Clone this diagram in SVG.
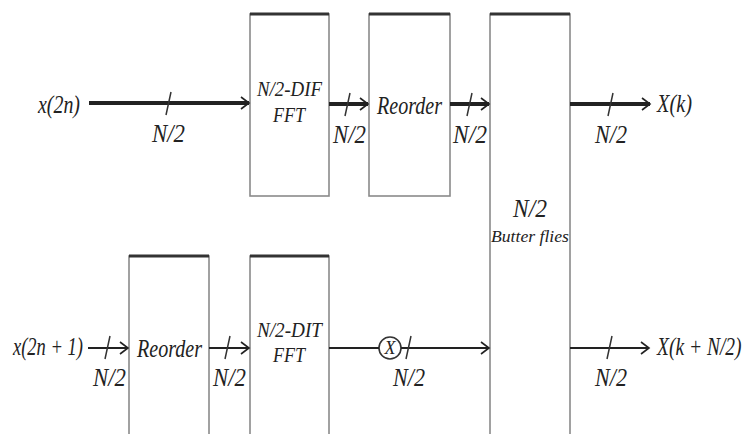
<svg xmlns="http://www.w3.org/2000/svg" width="747" height="434" viewBox="0 0 747 434" font-family="'Liberation Serif', 'DejaVu Serif', serif">
<style>
.box{fill:#fff;stroke:#8a8a8a;stroke-width:1.6}
.top{stroke:#333;stroke-width:3;fill:none}
text{font-family:'Liberation Serif','DejaVu Serif',serif;font-style:italic;fill:#222}
.l{font-size:25px}
.s{font-size:21px}
.thick{stroke:#222;stroke-width:4;fill:none}
.thin{stroke:#222;stroke-width:2;fill:none}
.tick{stroke:#333;stroke-width:1.5;fill:none}
</style>
<defs>
<marker id="arr" markerUnits="userSpaceOnUse" markerWidth="14" markerHeight="16" viewBox="0 0 14 16" refX="12" refY="8" orient="auto">
<path d="M4,2 L12,8 L4,14" fill="none" stroke="#222" stroke-width="1.6"/>
</marker>
</defs>

<g id="dif-fft">
<rect class="box" x="250" y="14" width="79" height="182"/>
<line class="top" x1="250" y1="14" x2="329" y2="14"/>
<text class="s" x="257" y="96" textLength="65" lengthAdjust="spacingAndGlyphs">N/2-DIF</text>
<text class="s" x="273" y="122" textLength="32" lengthAdjust="spacingAndGlyphs">FFT</text>
</g>
<g id="reorder-top">
<rect class="box" x="369" y="14" width="81" height="182"/>
<line class="top" x1="369" y1="14" x2="450" y2="14"/>
<text class="l" x="377" y="114" textLength="65" lengthAdjust="spacingAndGlyphs">Reorder</text>
</g>
<g id="butterflies">
<path class="box" d="M490,440 L490,14 L570,14 L570,440"/>
<line class="top" x1="490" y1="14" x2="570" y2="14"/>
<text class="l" x="513" y="217" textLength="34" lengthAdjust="spacingAndGlyphs">N/2</text>
<text style="font-size:17px" x="491" y="242" textLength="78" lengthAdjust="spacingAndGlyphs">Butter flies</text>
</g>
<g id="reorder-bottom">
<path class="box" d="M129,440 L129,256 L209,256 L209,440"/>
<line class="top" x1="129" y1="256" x2="209" y2="256"/>
<text class="l" x="137" y="357" textLength="65" lengthAdjust="spacingAndGlyphs">Reorder</text>
</g>
<g id="dit-fft">
<path class="box" d="M250,440 L250,256 L329,256 L329,440"/>
<line class="top" x1="250" y1="256" x2="329" y2="256"/>
<text class="s" x="257" y="337" textLength="65" lengthAdjust="spacingAndGlyphs">N/2-DIT</text>
<text class="s" x="273" y="362" textLength="32" lengthAdjust="spacingAndGlyphs">FFT</text>
</g>
<g id="multiplier">
<circle cx="390" cy="348" r="11" fill="#fff" stroke="#333" stroke-width="1.6"/>
<text style="font-size:18px" x="390" y="354" text-anchor="middle">X</text>
</g>

<g id="connectors">
<line class="thick" x1="89" y1="103" x2="249" y2="103" marker-end="url(#arr)"/>
<line class="thick" x1="329" y1="104" x2="368" y2="104" marker-end="url(#arr)"/>
<line class="thick" x1="450" y1="104" x2="489" y2="104" marker-end="url(#arr)"/>
<line class="thick" x1="570" y1="104" x2="650" y2="104" marker-end="url(#arr)"/>
<line class="thin" x1="88" y1="348" x2="128" y2="348" marker-end="url(#arr)"/>
<line class="thin" x1="209" y1="348" x2="249" y2="348" marker-end="url(#arr)"/>
<line class="thin" x1="329" y1="348" x2="379" y2="348"/>
<line class="thin" x1="401" y1="348" x2="489" y2="348" marker-end="url(#arr)"/>
<line class="thin" x1="570" y1="348" x2="649" y2="348" marker-end="url(#arr)"/>
<path class="tick" d="M166,115 L171,92 M345,116 L350,93 M467,116 L472,93 M608,116 L613,93 M105,359 L110,336 M225,359 L230,336 M406,359 L411,336 M607,359 L612,336"/>
</g>

<g id="labels">
<text class="l" x="38" y="113" textLength="42" lengthAdjust="spacingAndGlyphs">x(2n)</text>
<text class="l" x="152" y="142" textLength="33" lengthAdjust="spacingAndGlyphs">N/2</text>
<text class="l" x="333" y="143" textLength="33" lengthAdjust="spacingAndGlyphs">N/2</text>
<text class="l" x="453" y="143" textLength="34" lengthAdjust="spacingAndGlyphs">N/2</text>
<text class="l" x="595" y="143" textLength="32" lengthAdjust="spacingAndGlyphs">N/2</text>
<text class="l" x="657" y="112" textLength="35" lengthAdjust="spacingAndGlyphs">X(k)</text>
<text class="l" x="13" y="355" textLength="70" lengthAdjust="spacingAndGlyphs">x(2n + 1)</text>
<text class="l" x="93" y="386" textLength="33" lengthAdjust="spacingAndGlyphs">N/2</text>
<text class="l" x="213" y="386" textLength="33" lengthAdjust="spacingAndGlyphs">N/2</text>
<text class="l" x="393" y="386" textLength="32" lengthAdjust="spacingAndGlyphs">N/2</text>
<text class="l" x="595" y="386" textLength="32" lengthAdjust="spacingAndGlyphs">N/2</text>
<text class="l" transform="translate(657,355) scale(0.78,1)" x="0" y="0">X(k + N/2)</text>
</g>
</svg>
